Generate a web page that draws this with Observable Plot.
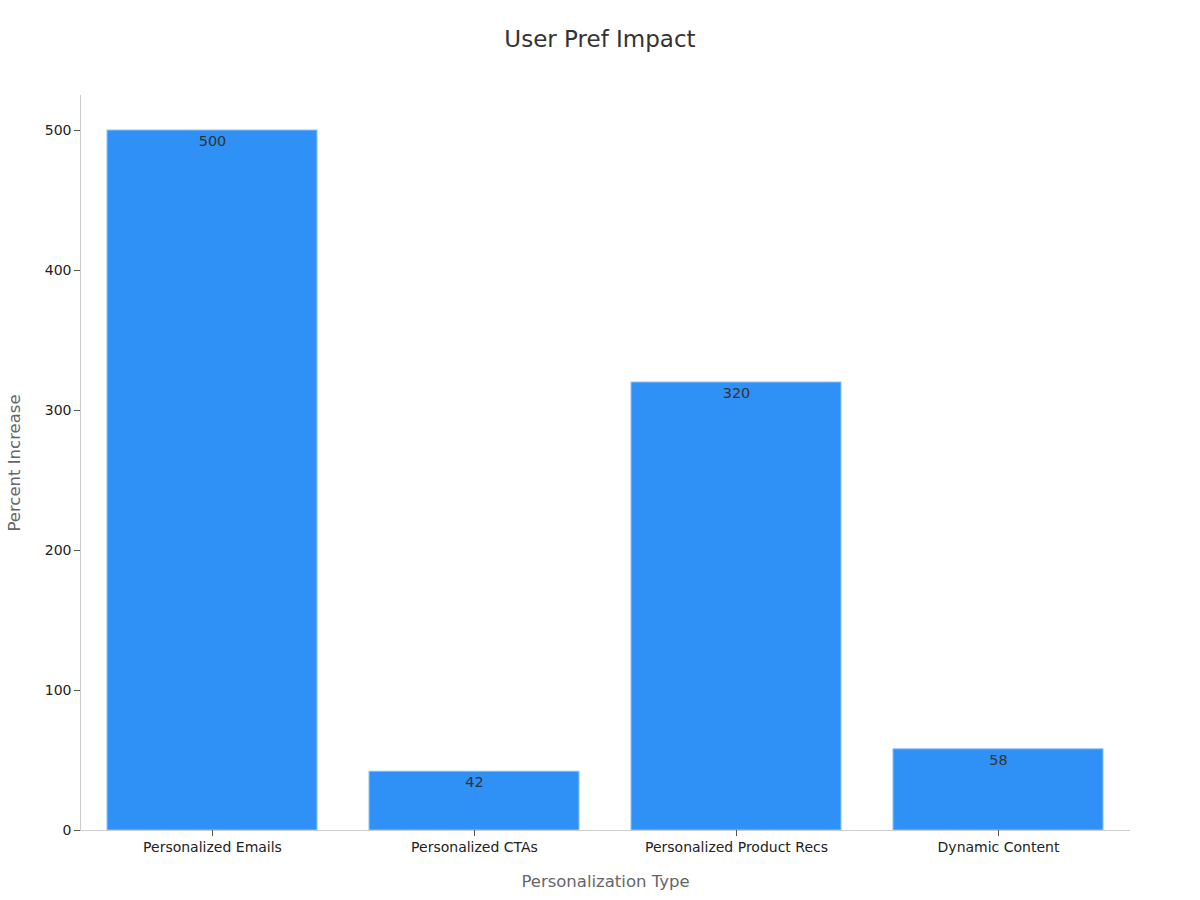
<!DOCTYPE html>
<html>
<head>
<meta charset="utf-8">
<script src="https://cdn.jsdelivr.net/npm/d3@7"></script>
<script src="https://cdn.jsdelivr.net/npm/@observablehq/plot@0.6"></script>
<style>
  body { margin: 0; background: #fff; font-family: "DejaVu Sans", sans-serif; }
  #wrap { position: relative; width: 1200px; height: 900px; }
  #title { position: absolute; top: 26px; left: 0; width: 1200px; text-align: center;
           font-size: 23px; color: #333; font-family: "DejaVu Sans", sans-serif; }
</style>
</head>
<body>
<div id="wrap">
  <div id="title">User Pref Impact</div>
  <div id="chart"></div>
</div>
<script>
const categories = ["Personalized Emails", "Personalized CTAs", "Personalized Product Recs", "Dynamic Content"];
const values = [500, 42, 320, 58];
const yTicks = [0, 100, 200, 300, 400, 500];

const data = categories.map((c, i) => ({category: c, value: values[i]}));

const chart = Plot.plot({
  width: 1200,
  height: 900,
  marginTop: 95,
  marginBottom: 70,
  marginLeft: 80,
  marginRight: 70,
  style: {fontFamily: "DejaVu Sans, sans-serif", fontSize: "14px", color: "#222", background: "white"},
  x: {domain: categories, paddingInner: 0.2, paddingOuter: 0.1, label: null},
  y: {domain: [0, 525], label: null},
  marks: [
    Plot.barY(data, {x: "category", y: "value", fill: "#2f90f6", stroke: "#8fc2f5", strokeWidth: 1}),
    Plot.text(data, {x: "category", y: "value", text: d => String(d.value), dy: 11, fill: "#333", fontSize: 14.5}),
    Plot.frame({anchor: "left", stroke: "#cccccc"}),
    Plot.ruleY([0], {stroke: "#cccccc"}),
    Plot.axisY({ticks: yTicks, tickSize: 6, tickPadding: 3, stroke: "#555", fill: "#222", fontSize: 14, label: null}),
    Plot.axisX({tickSize: 6, tickPadding: 6, stroke: "#555", fill: "#222", fontSize: 14, label: null}),
    Plot.axisY({ticks: [], label: "Percent Increase", labelAnchor: "center", labelOffset: 72, fill: "#666", fontSize: 16.5, labelArrow: "none"}),
    Plot.axisX({ticks: [], label: "Personalization Type", labelAnchor: "center", labelOffset: 56, fill: "#666", fontSize: 16.5, labelArrow: "none"})
  ]
});
document.getElementById("chart").appendChild(chart);
</script>
</body>
</html>
